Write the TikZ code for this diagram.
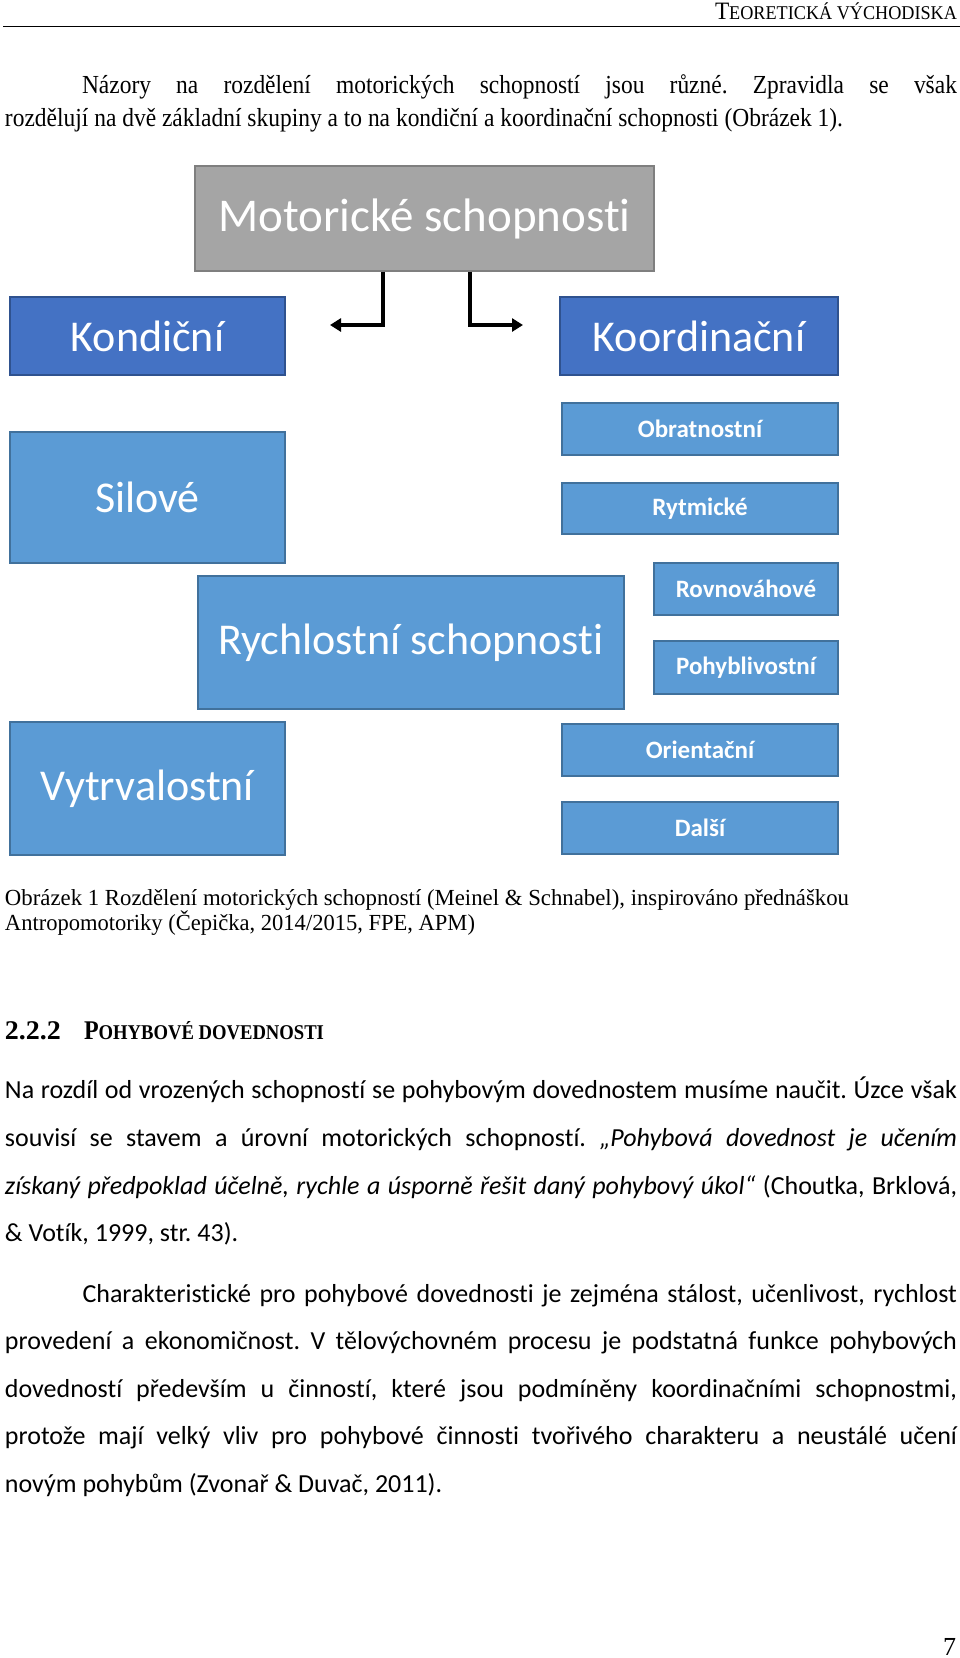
\documentclass[tikz,border=0pt]{standalone}
\usepackage{fontspec}
\setmainfont{Carlito}[Ligatures=NoCommon]
\newfontfamily\tnr{Liberation Serif}
\usepackage{graphicx}
\usetikzlibrary{arrows.meta}
\definecolor{grayfill}{HTML}{A5A5A5}
\definecolor{grayline}{HTML}{7F7F7F}
\definecolor{darkfill}{HTML}{4472C4}
\definecolor{darkline}{HTML}{2F528F}
\definecolor{lightfill}{HTML}{5B9BD5}
\definecolor{lightline}{HTML}{41719C}
\newlength\mylen
\frenchspacing
\begin{document}
\settowidth\mylen{\tnr\fontsize{26}{30}\selectfont rozdělují na dvě základní skupiny a to na kondiční a koordinační schopnosti (Obrázek 1).}%
\pgfmathsetmacro\tr{838/\mylen}%
\pgfmathsetmacro\lwa{875/\tr}%
\begin{tikzpicture}[x=1pt,y=-1pt,
  ln/.style={anchor=base west, inner sep=0pt, outer sep=0pt},
  bodyfont/.style={font=\fontsize{26}{30}\selectfont},
  boxbase/.style={rectangle, inner sep=0pt, text=white, line width=1.2pt},
  greybox/.style={boxbase, fill=grayfill, draw=grayline, font=\fontsize{47}{50}\selectfont},
  darkbox/.style={boxbase, fill=darkfill, draw=darkline, font=\fontsize{44}{48}\selectfont},
  bigbox/.style={boxbase, fill=lightfill, draw=lightline, font=\fontsize{44}{48}\selectfont},
  smallbox/.style={boxbase, fill=lightfill, draw=lightline, font=\bfseries\fontsize{25}{28}\selectfont},
  arr/.style={line width=4pt, -{Triangle[length=11pt,width=13pt]}},
]
\useasboundingbox (0,0) rectangle (960,1658);

% header
\node[ln, anchor=base east] (hdr) at (957,19) {\resizebox{242pt}{\height}{\tnr{\fontsize{25}{27}\selectfont T}\fontsize{19.5}{22}\selectfont EORETICKÁ VÝCHODISKA}};
\draw[line width=1.5pt] (3,26.5) -- (960,26.5);

% first paragraph (Times)
\node[ln] (pa1) at (82,93) {\tnr\fontsize{26}{30}\selectfont\scalebox{\tr}[1]{\makebox[\lwa pt][s]{Názory na rozdělení motorických schopností jsou různé. Zpravidla se však}}};
\node[ln] (pa2) at (5,126) {\tnr\fontsize{26}{30}\selectfont\scalebox{\tr}[1]{rozdělují na dvě základní skupiny a to na kondiční a koordinační schopnosti (Obrázek 1).}};

% diagram
\node[greybox, minimum width=459pt, minimum height=105pt] (motor) at (424.5,218.5) {Motorické schopnosti};
\node[darkbox, minimum width=275pt, minimum height=78pt] (kond) at (147.5,336) {Kondiční};
\node[darkbox, minimum width=278pt, minimum height=78pt] (koord) at (699,336) {Koordinační};
\node[bigbox, minimum width=275pt, minimum height=131pt] (silove) at (147.5,497.5) {Silové};
\node[bigbox, minimum width=426pt, minimum height=133pt] (rychl) at (411,642.5) {Rychlostní schopnosti};
\node[bigbox, minimum width=275pt, minimum height=133pt] (vytrv) at (147.5,788.5) {Vytrvalostní};
\node[smallbox, minimum width=276pt, minimum height=52pt] (obrat) at (700,429) {Obratnostní};
\node[smallbox, minimum width=276pt, minimum height=51pt] (rytm) at (700,508.5) {Rytmické};
\node[smallbox, minimum width=184pt, minimum height=52pt] (rovn) at (746,589) {Rovnováhové};
\node[smallbox, minimum width=184pt, minimum height=53pt] (pohyb) at (746,667.5) {Pohyblivostní};
\node[smallbox, minimum width=276pt, minimum height=52pt] (orient) at (700,750) {Orientační};
\node[smallbox, minimum width=276pt, minimum height=52pt] (dalsi) at (700,828) {Další};

\coordinate (lknee) at (383,325);
\coordinate (ltip) at (330,325);
\coordinate (rknee) at (470,325);
\coordinate (rtip) at (523,325);
\draw[arr] (motor.south -| lknee) -- (lknee) -- (ltip);
\draw[arr] (motor.south -| rknee) -- (rknee) -- (rtip);

% caption
\node[ln] (cap1) at (5,905) {\resizebox{844pt}{\height}{\tnr\fontsize{23}{26}\selectfont Obrázek 1 Rozdělení motorických schopností (Meinel \& Schnabel), inspirováno přednáškou}};
\node[ln] (cap2) at (5,930) {\resizebox{470pt}{\height}{\tnr\fontsize{23}{26}\selectfont Antropomotoriky (Čepička, 2014/2015, FPE, APM)}};

% heading
\node[ln] (hnum) at (5,1039) {\resizebox{56pt}{\height}{\tnr\bfseries\fontsize{27}{30}\selectfont 2.2.2}};
\node[ln] (htxt) at (84,1039) {\resizebox{240pt}{\height}{\tnr\bfseries{\fontsize{27}{30}\selectfont P}\fontsize{21}{24}\selectfont OHYBOVÉ DOVEDNOSTI}};

% body paragraph 1
\node[ln, bodyfont] (b1) at (5,1098) {\makebox[952pt][s]{Na rozdíl od vrozených schopností se pohybovým dovednostem musíme naučit. Úzce však}};
\node[ln, bodyfont] (b2) at (5,1146) {\makebox[952pt][s]{souvisí se stavem a úrovní motorických schopností. \textit{„Pohybová dovednost je učením}}};
\node[ln, bodyfont] (b3) at (5,1194) {\makebox[952pt][s]{\textit{získaný předpoklad účelně, rychle a úsporně řešit daný pohybový úkol“} (Choutka, Brklová,}};
\node[ln, bodyfont] (b4) at (5,1241) {\& Votík, 1999, str. 43).};

% body paragraph 2
\node[ln, bodyfont] (c1) at (82.5,1302) {\makebox[874.5pt][s]{Charakteristické pro pohybové dovednosti je zejména stálost, učenlivost, rychlost}};
\node[ln, bodyfont] (c2) at (5,1349) {\makebox[952pt][s]{provedení a ekonomičnost. V tělovýchovném procesu je podstatná funkce pohybových}};
\node[ln, bodyfont] (c3) at (5,1397) {\makebox[952pt][s]{dovedností především u činností, které jsou podmíněny koordinačními schopnostmi,}};
\node[ln, bodyfont] (c4) at (5,1444) {\makebox[952pt][s]{protože mají velký vliv pro pohybové činnosti tvořivého charakteru a neustálé učení}};
\node[ln, bodyfont] (c5) at (5,1492) {novým pohybům (Zvonař \& Duvač, 2011).};

% page number
\node[ln, anchor=base east] (pnum) at (956,1655) {\tnr\fontsize{26}{30}\selectfont 7};
\end{tikzpicture}
\end{document}
